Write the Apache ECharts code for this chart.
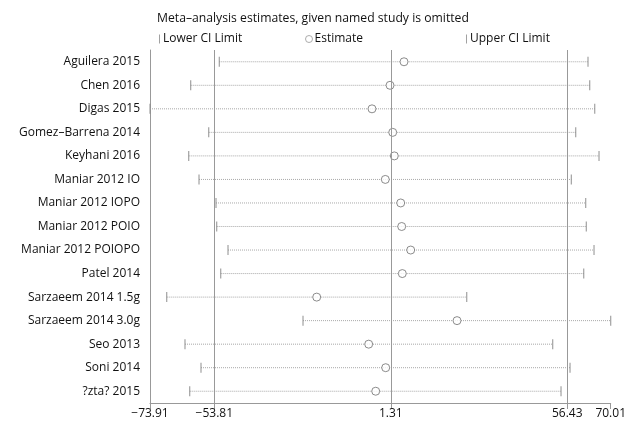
<!DOCTYPE html>
<html>
<head>
<meta charset="utf-8">
<script src="https://cdn.jsdelivr.net/npm/echarts@6/dist/echarts.min.js"></script>
<style>
html,body{margin:0;padding:0;background:#fff;}
#chart{width:641px;height:425px;}
</style>
</head>
<body>
<div id="chart"></div>
<script>
const categories = [
  'Aguilera 2015', 'Chen 2016', 'Digas 2015', 'Gomez–Barrena 2014', 'Keyhani 2016',
  'Maniar 2012 IO', 'Maniar 2012 IOPO', 'Maniar 2012 POIO', 'Maniar 2012 POIOPO',
  'Patel 2014', 'Sarzaeem 2014 1.5g', 'Sarzaeem 2014 3.0g', 'Seo 2013', 'Soni 2014', '?zta? 2015'
];
const lowerCI = [-52.26, -61.20, -73.91, -55.57, -61.82, -58.60, -53.29, -53.08, -49.54, -51.82, -68.69, -26.11, -62.98, -57.98, -61.51];
const estimates = [5.44, 1.07, -4.56, 1.91, 2.41, -0.40, 4.41, 4.72, 7.53, 4.91, -21.83, 22.00, -5.59, -0.28, -3.40];
const upperCI = [62.92, 63.45, 65.02, 59.08, 66.36, 57.71, 62.20, 62.39, 64.80, 61.58, 25.03, 70.01, 51.89, 57.30, 54.49];
const refLines = [-53.81, 1.31, 56.43];
const tickValues = [-73.91, -53.81, 1.31, 56.43, 70.01];

const FONT = '"Open Sans"';
const TXT = '#111';
const chart = echarts.init(document.getElementById('chart'), null, {renderer: 'canvas'});

const pair = arr => arr.map((v, i) => [v, categories[i]]);

chart.setOption({
  animation: false,
  backgroundColor: '#fff',
  textStyle: {fontFamily: FONT},
  title: {
    text: 'Meta–analysis estimates, given named study is omitted',
    left: 152, top: 8,
    textStyle: {fontFamily: FONT, fontSize: 12.2, fontWeight: 'normal', color: TXT}
  },
  legend: [
    {data: ['Lower CI Limit'], left: 154, top: 28, icon: 'rect', itemWidth: 1, itemHeight: 9,
     textStyle: {fontFamily: FONT, fontSize: 12, color: TXT, padding: [0,0,0,-2]}},
    {data: ['Estimate'], left: 300, top: 28, icon: 'circle', itemWidth: 7, itemHeight: 7,
     itemStyle: {color: '#fff', borderColor: '#999', borderWidth: 1},
     textStyle: {fontFamily: FONT, fontSize: 12, color: TXT, padding: [0,0,0,-3]}},
    {data: ['Upper CI Limit'], left: 461, top: 28, icon: 'rect', itemWidth: 1, itemHeight: 9,
     textStyle: {fontFamily: FONT, fontSize: 12, color: TXT, padding: [0,0,0,-2]}}
  ],
  grid: {left: 150, right: 30.3, top: 50, bottom: 22, containLabel: false},
  xAxis: {
    type: 'value', min: -73.91, max: 70.01,
    splitLine: {show: false},
    axisLine: {show: true, lineStyle: {color: '#999', width: 1}},
    axisTick: {show: true, length: 6, customValues: tickValues, lineStyle: {color: '#999'}},
    axisLabel: {
      customValues: tickValues, color: TXT, fontSize: 12, fontFamily: FONT, margin: 5,
      formatter: v => (v < 0 ? '−' + Math.abs(v).toFixed(2) : v.toFixed(2))
    }
  },
  yAxis: {
    type: 'category', data: categories, inverse: true,
    axisLine: {show: true, onZero: false, lineStyle: {color: '#999', width: 1}},
    axisTick: {show: false},
    splitLine: {show: false},
    axisLabel: {color: TXT, fontSize: 12, fontFamily: FONT, margin: 10}
  },
  series: [
    {
      type: 'custom', name: 'ci', silent: true,
      data: categories.map((c, i) => [lowerCI[i], upperCI[i], i]),
      encode: {x: [0, 1], y: 2},
      renderItem: function (params, api) {
        const a = api.coord([api.value(0), api.value(2)]);
        const b = api.coord([api.value(1), api.value(2)]);
        return {
          type: 'line',
          shape: {x1: a[0], y1: a[1], x2: b[0], y2: a[1]},
          style: {stroke: '#a8a8a8', lineWidth: 1, lineDash: [1, 1]}
        };
      },
      z: 1
    },
    {
      type: 'scatter', name: 'Lower CI Limit', data: pair(lowerCI),
      symbol: 'rect', symbolSize: [1.2, 10],
      itemStyle: {color: '#8a8a8a'}, z: 3
    },
    {
      type: 'scatter', name: 'Estimate', data: pair(estimates),
      symbol: 'circle', symbolSize: 8,
      itemStyle: {color: '#fff', borderColor: '#6f6f6f', borderWidth: 1}, z: 4,
      markLine: {
        silent: true, symbol: 'none', label: {show: false},
        lineStyle: {color: '#999', type: 'solid', width: 1},
        data: refLines.map(v => ({xAxis: v}))
      }
    },
    {
      type: 'scatter', name: 'Upper CI Limit', data: pair(upperCI),
      symbol: 'rect', symbolSize: [1.2, 10],
      itemStyle: {color: '#8a8a8a'}, z: 3
    }
  ]
});
</script>
</body>
</html>
